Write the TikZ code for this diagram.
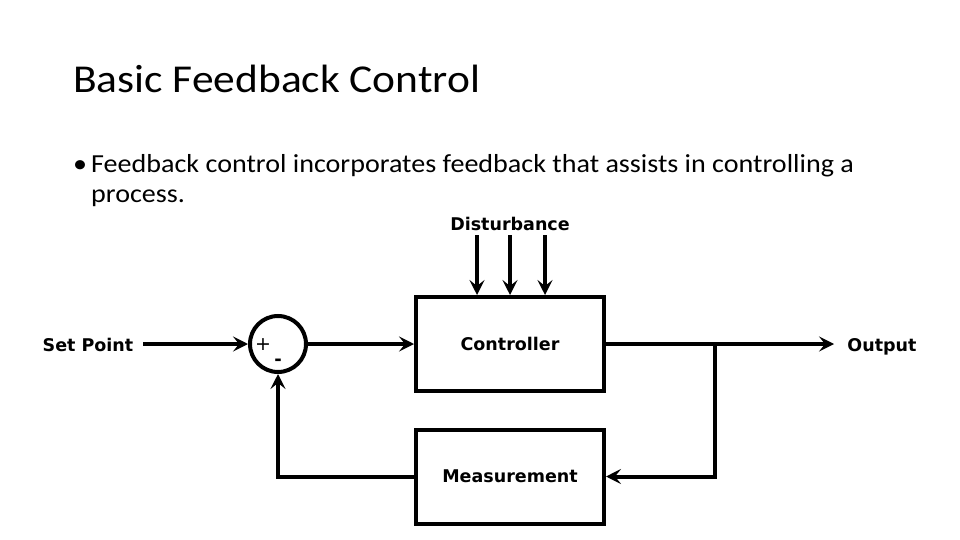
\documentclass[tikz,border=0pt]{standalone}
\usepackage{fontspec}
\usepackage{tikz}
\usetikzlibrary{arrows.meta,calc}
\setmainfont{Carlito}
\newfontfamily\diafont{DejaVu Sans}

\begin{document}
\begin{tikzpicture}[x=1pt, y=-1pt,
            blk/.style = {draw, line width=4pt, minimum width=188pt, minimum height=94pt, font=\diafont\bfseries\fontsize{17.5}{20}\selectfont},
            lbl/.style = {anchor=base, inner sep=0pt, font=\diafont\bfseries\fontsize{17.5}{20}\selectfont},
            body/.style = {anchor=base west, inner sep=0pt, xscale=1.08, font=\fontsize{26}{30}\selectfont},
            wire/.style = {line width=4pt},
            arr/.style = {wire, -{Stealth[length=15pt, width=15pt, inset=6pt]}}]
            \useasboundingbox (0,0) rectangle (960,540);
        
            % slide texts
            \node[anchor=base west, inner sep=0pt, xscale=1.1, font=\fontsize{39.5}{46}\selectfont] (title) at (73,93) {Basic Feedback Control};
            \node[body] (bul) at (73,172) {\textbullet};
            \node[body] (line1) at (91,172) {Feedback control incorporates feedback that assists in controlling a};
            \node[body] (line2) at (91,202) {process.};
        
            % blocks
            \node[blk] (ctrl) at (510,344) {Controller};
            \node[blk] (meas) at (510,476.5) {Measurement};
            \node[draw, circle, line width=4pt, minimum size=56pt, inner sep=0pt] (sum) at (278,344) {};
            \node[inner sep=0pt, font=\diafont\fontsize{19}{20}\selectfont] (plus) at (263,345) {+};
            \node[inner sep=0pt, font=\diafont\bfseries\fontsize{18}{20}\selectfont] (minus) at (278,362) {-};
        
            % labels
            \node[lbl] (sp) at (88,351) {Set Point};
            \node[lbl] (out) at (882,351) {Output};
            \node[lbl] (dist) at (510,230) {Disturbance};
            \coordinate (spout) at (143,344);
            \coordinate (outin) at (834,344);
            \coordinate (br) at (715,344);
        
            % connectors
            \draw[arr] (spout) -- (sum.west);
            \draw[arr] (sum.east) -- (ctrl.west);
            \draw[arr] (ctrl.east) -- (outin);
            \draw[arr] (br) |- (meas.east);
            \draw[arr] (meas.west) -| (sum.south);
            \foreach \dx in {-33,0,35}
                \draw[arr] ([xshift=\dx pt, yshift=60pt]ctrl.north) -- ([xshift=\dx pt]ctrl.north);
        
            \end{tikzpicture}
\end{document}
